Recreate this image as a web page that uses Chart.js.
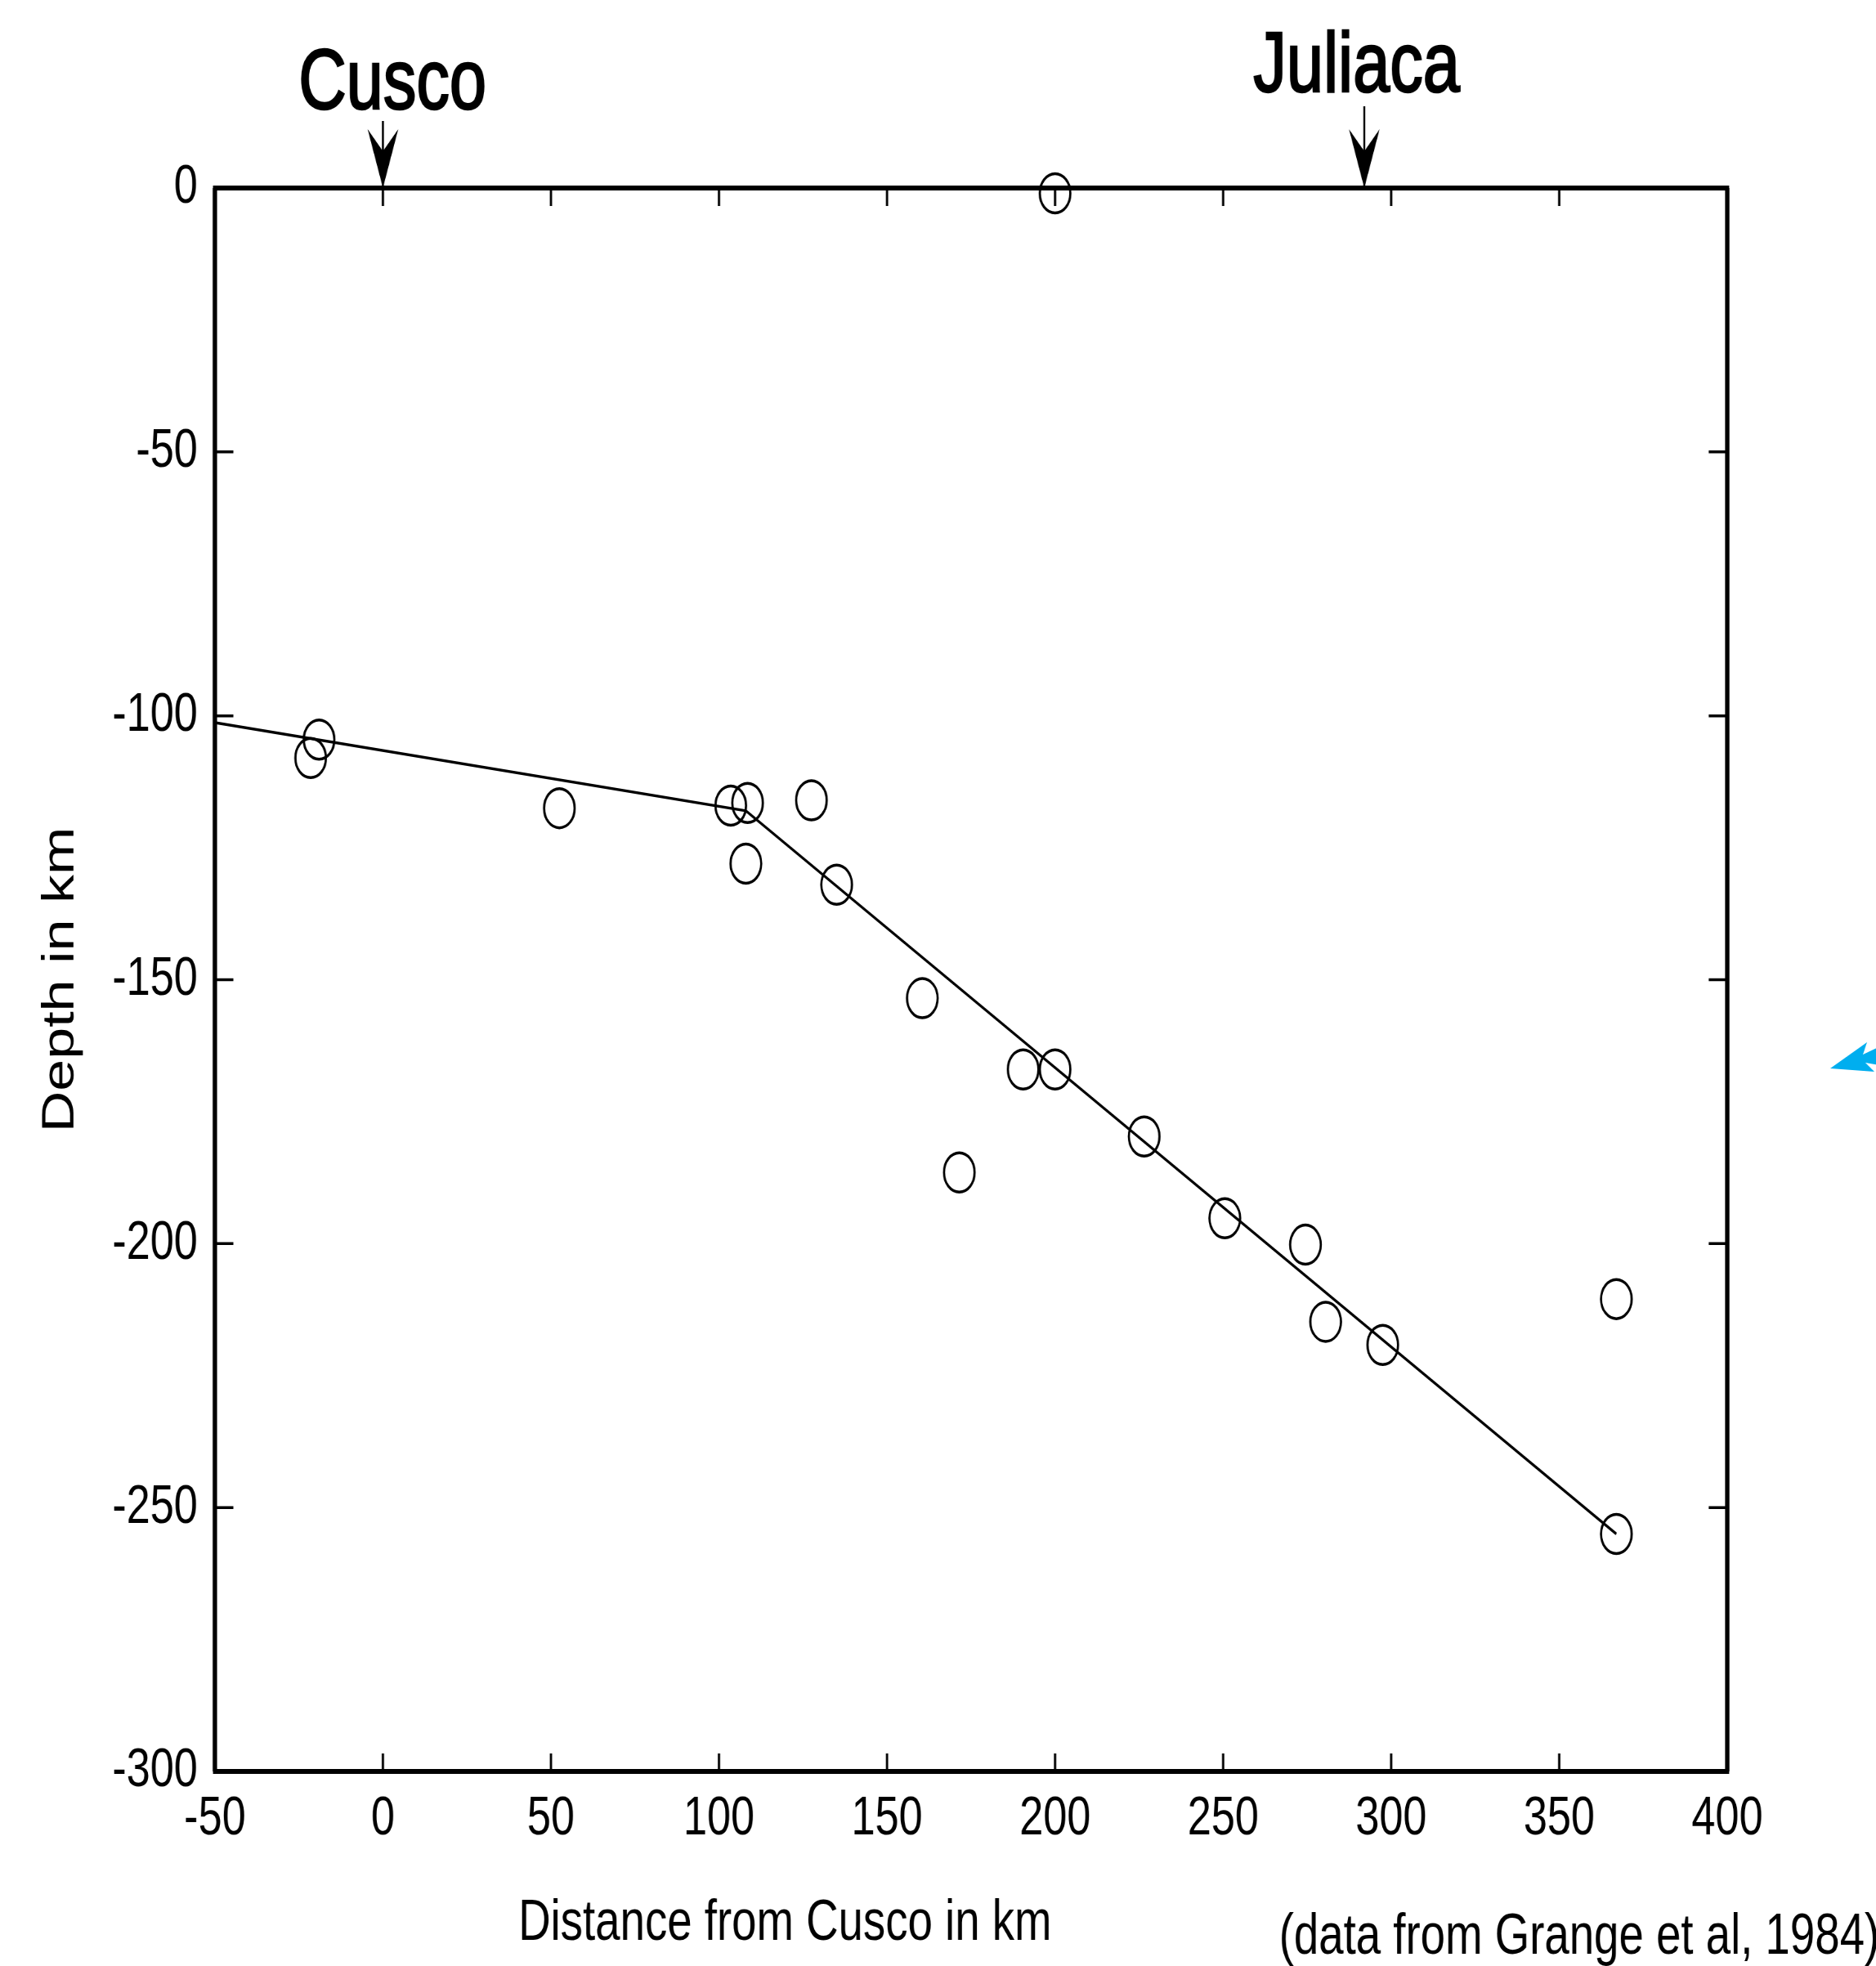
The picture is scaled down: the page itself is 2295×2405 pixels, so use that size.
<!DOCTYPE html>
<html>
<head>
<meta charset="utf-8">
<script src="https://cdn.jsdelivr.net/npm/chart.js@4.4.1/dist/chart.umd.min.js"></script>
<style>
  html, body { margin: 0; padding: 0; background: #fff; overflow: hidden; }
  #wrap { width: 2295px; height: 2405px; overflow: hidden; position: relative; }
  /* the source picture is a horizontally squeezed screenshot, so squeeze the canvas too */
  #chart { position: absolute; left: 0; top: 0; transform: scaleX(0.78); transform-origin: 0 0; }
</style>
</head>
<body>
<div id="wrap"><canvas id="chart" width="2942" height="2405"></canvas></div>
<script>
// hypocentres (km)
var distances = [200, -19, -21.5, 52.5, 103.5, 108.5, 108, 127.5, 135, 160.5, 171.5, 190.5, 200, 226.5, 250.5, 274.5, 280.5, 297.5, 367, 367];
var depths    = [-1, -104.5, -108, -117.5, -117, -116.5, -128, -116, -132, -153.5, -186.5, -167, -167, -179.7, -195.2, -200.2, -214.8, -219.2, -210.5, -255];

// the two-segment slab line
var fitDistances = [-50, 108, 367];
var fitDepths    = [-101.3, -118, -255];

// towns marked above the profile
var placeNames     = ['Cusco', 'Juliaca'];
var placeDistances = [0, 292];

var xTitle = 'Distance from Cusco in km';
var yTitle = 'Depth in km';
var credit = '(data from Grange et al, 1984)';

var SX = 0.78;
var FONT = '"Liberation Sans", Arial, sans-serif';

var frame = {
  id: 'frame',
  beforeDatasetsDraw: function(chart) {
    var ctx = chart.ctx, a = chart.chartArea, xs = chart.scales.x, ys = chart.scales.y;
    ctx.save();
    ctx.strokeStyle = '#000';
    // inward ticks on all four sides
    ctx.lineWidth = 3.5;
    ctx.beginPath();
    xs.ticks.forEach(function(t) {
      var px = xs.getPixelForValue(t.value);
      ctx.moveTo(px, a.bottom); ctx.lineTo(px, a.bottom - 22);
      ctx.moveTo(px, a.top); ctx.lineTo(px, a.top + 22);
    });
    ys.ticks.forEach(function(t) {
      var py = ys.getPixelForValue(t.value);
      ctx.moveTo(a.left, py); ctx.lineTo(a.left + 29, py);
      ctx.moveTo(a.right, py); ctx.lineTo(a.right - 29, py);
    });
    ctx.stroke();
    // box
    ctx.lineWidth = 6;
    ctx.beginPath();
    ctx.moveTo(a.left - 3, a.top); ctx.lineTo(a.right + 3, a.top);
    ctx.moveTo(a.left - 3, a.bottom); ctx.lineTo(a.right + 3, a.bottom);
    ctx.stroke();
    ctx.lineWidth = 7;
    ctx.beginPath();
    ctx.moveTo(a.left, a.top); ctx.lineTo(a.left, a.bottom);
    ctx.moveTo(a.right, a.top); ctx.lineTo(a.right, a.bottom);
    ctx.stroke();
    ctx.restore();
  },
  afterDraw: function(chart) {
    var ctx = chart.ctx, a = chart.chartArea, xs = chart.scales.x;
    ctx.save();
    ctx.fillStyle = '#000';
    ctx.strokeStyle = '#000';

    // town labels with arrows
    var labelBase = [133, 112];
    var labelShift = [15, -12];
    var shaftLen = [82, 100];
    placeNames.forEach(function(name, i) {
      var px = xs.getPixelForValue(placeDistances[i]);
      ctx.font = '104px ' + FONT;
      ctx.textAlign = 'center';
      ctx.textBaseline = 'alphabetic';
      ctx.lineWidth = 2.5;
      ctx.fillText(name, px + labelShift[i], labelBase[i]);
      ctx.strokeText(name, px + labelShift[i], labelBase[i]);
      ctx.lineWidth = 3;
      ctx.beginPath();
      ctx.moveTo(px, a.top - shaftLen[i]);
      ctx.lineTo(px, a.top);
      ctx.stroke();
      ctx.beginPath();
      ctx.moveTo(px, a.top);
      ctx.lineTo(px - 24, a.top - 72);
      ctx.lineTo(px, a.top - 45);
      ctx.lineTo(px + 24, a.top - 72);
      ctx.closePath();
      ctx.fill();
    });

    // x axis title, sits left of centre in the original
    ctx.font = '70px ' + FONT;
    ctx.textAlign = 'left';
    ctx.textBaseline = 'alphabetic';
    ctx.fillText(xTitle, 813, 2373);
    ctx.fillText(credit, 2006, 2390);

    // blue pointer at the right edge
    ctx.fillStyle = '#00aeef';
    ctx.beginPath();
    ctx.moveTo(2239 / SX, 1307);
    ctx.lineTo(2284 / SX, 1275);
    ctx.lineTo(2279 / SX, 1290);
    ctx.lineTo(2300 / SX, 1280);
    ctx.lineTo(2300 / SX, 1303);
    ctx.lineTo(2282 / SX, 1300);
    ctx.lineTo(2293 / SX, 1311);
    ctx.closePath();
    ctx.fill();
    ctx.restore();
  }
};

var points = distances.map(function(d, i) { return { x: d, y: depths[i] }; });
var slab = fitDistances.map(function(d, i) { return { x: d, y: fitDepths[i] }; });

new Chart(document.getElementById('chart'), {
  type: 'scatter',
  data: {
    datasets: [
      {
        label: 'Hypocentres',
        data: points,
        showLine: false,
        pointStyle: 'circle',
        pointRadius: 24,
        pointBorderWidth: 3.5,
        pointBorderColor: '#000',
        pointBackgroundColor: 'rgba(0,0,0,0)',
        clip: false
      },
      {
        label: 'Slab',
        data: slab,
        showLine: true,
        borderColor: '#000',
        borderWidth: 3.5,
        pointRadius: 0,
        tension: 0
      }
    ]
  },
  options: {
    responsive: false,
    animation: false,
    devicePixelRatio: 1,
    layout: { padding: { top: 230, right: 233, left: 54, bottom: 0 } },
    plugins: { legend: { display: false }, tooltip: { enabled: false } },
    scales: {
      x: {
        type: 'linear',
        min: -50,
        max: 400,
        grid: { display: false, drawTicks: false },
        border: { display: false },
        ticks: { stepSize: 50, padding: 18, color: '#000', maxRotation: 0, autoSkip: false, font: { family: FONT, size: 67 } },
        afterFit: function(s) { s.height = 238; }
      },
      y: {
        type: 'linear',
        min: -300,
        max: 0,
        grid: { display: false, drawTicks: false },
        border: { display: false },
        ticks: { stepSize: 50, padding: 27, color: '#000', font: { family: FONT, size: 67 } },
        title: { display: true, text: yTitle, color: '#000', padding: 0, font: { family: FONT, size: 70 } },
        afterFit: function(s) { s.width = 283; }
      }
    }
  },
  plugins: [frame]
});
</script>
</body>
</html>
